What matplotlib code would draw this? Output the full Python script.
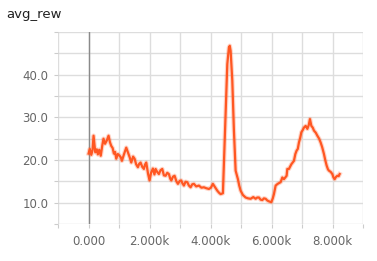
import numpy as np
import matplotlib
matplotlib.use('Agg')
import matplotlib.pyplot as plt

# avg_rew curve, values
steps = [0, 40, 90, 130, 164, 220, 270, 305, 350, 400, 450, 490, 540, 600,
         656, 700, 744, 790, 830, 870, 908, 960, 1017, 1060, 1093, 1160, 1236,
         1290, 1350, 1400, 1460, 1509, 1560, 1617, 1660, 1706, 1760, 1814, 1850,
         1892, 1950, 2000, 2050, 2110, 2160, 2198, 2250, 2306, 2360, 2417, 2470,
         2526, 2580, 2634, 2680, 2713, 2770, 2821, 2880, 2930, 2990, 3040, 3080,
         3126, 3180, 3237, 3290, 3346, 3400, 3454, 3530, 3618, 3700, 3782, 3850,
         3946, 4010, 4077, 4150, 4221, 4280, 4330, 4405, 4438, 4494, 4549, 4602,
         4630, 4658, 4713, 4766, 4822, 4897, 4940, 4986, 5060, 5150, 5230, 5314,
         5400, 5478, 5530, 5586, 5640, 5697, 5750, 5806, 5860, 5914, 5993, 6040,
         6078, 6134, 6200, 6298, 6353, 6406, 6494, 6517, 6570, 6626, 6649, 6734,
         6780, 6822, 6860, 6898, 6940, 6977, 7020, 7062, 7118, 7174, 7220, 7259,
         7305, 7350, 7390, 7450, 7501, 7560, 7610, 7660, 7718, 7760, 7806, 7850,
         7882, 7940, 7993, 8030, 8069, 8110, 8158, 8200, 8233]
avg_rew = [21.5, 22.6, 21.2, 22.3, 25.7, 21.8, 22.5, 21.3, 22.4, 21.0, 23.4,
           25.0, 23.8, 24.6, 25.7, 24.2, 23.3, 22.8, 21.5, 21.9, 20.3, 21.4,
           21.0, 20.6, 19.8, 21.3, 22.9, 21.8, 20.6, 19.4, 20.8, 20.3, 19.0,
           18.3, 19.1, 19.4, 18.4, 17.9, 18.9, 19.4, 16.8, 15.2, 17.0, 18.0,
           16.6, 17.9, 17.2, 16.7, 17.6, 17.9, 16.4, 16.3, 17.0, 16.7, 15.6,
           15.2, 16.1, 16.3, 15.0, 14.4, 15.1, 15.2, 14.5, 14.0, 14.9, 14.8,
           14.0, 13.6, 14.3, 14.4, 13.8, 14.0, 13.5, 13.6, 13.4, 13.2, 13.5,
           14.4, 13.6, 12.8, 12.3, 12.0, 12.2, 19.0, 30.8, 42.5, 46.4, 46.8,
           45.6, 38.6, 26.9, 17.5, 15.5, 14.0, 12.8, 11.8, 11.2, 11.0, 10.9,
           11.3, 10.9, 11.2, 11.2, 10.7, 10.6, 11.0, 10.9, 10.5, 10.3, 10.1,
           11.0, 12.0, 14.0, 14.4, 14.8, 15.9, 15.5, 16.3, 17.9, 17.9, 18.7,
           19.0, 19.8, 21.4, 22.2, 22.6, 24.1, 25.2, 26.5, 27.0, 27.6, 28.0,
           27.3, 28.2, 29.6, 28.0, 27.6, 26.9, 26.4, 25.7, 25.0, 24.1, 23.0,
           21.4, 20.0, 18.7, 17.8, 17.5, 17.2, 16.7, 15.9, 15.5, 16.0, 16.3,
           16.2, 16.7]

x_ticks = np.arange(-1000, 9001, 1000)
x_labels = ['', '0.000', '', '2.000k', '', '4.000k', '', '6.000k', '', '8.000k', '']
y_ticks = np.arange(5, 51, 5)
y_labels = ['', '10.0', '', '20.0', '', '30.0', '', '40.0', '', '']

fig = plt.figure(figsize=(3.77, 2.61), dpi=100)
ax = fig.add_axes([0.154, 0.142, 0.809, 0.735])

# faint halo + main line
ax.plot(steps, avg_rew, color='#FF5722', alpha=0.25, linewidth=3.2, zorder=3)
ax.plot(steps, avg_rew, color='#FF5722', linewidth=1.6, zorder=4)

ax.axvline(0, color='#8a8a8a', linewidth=1.0, zorder=2)

ax.set_xlim(-1000, 9000)
ax.set_ylim(5, 50)
ax.set_xticks(x_ticks)
ax.set_xticklabels(x_labels)
ax.set_yticks(y_ticks)
ax.set_yticklabels(y_labels)
ax.grid(True, color='#dddddd', linewidth=1.0, zorder=1)
ax.set_axisbelow(True)
for s in ax.spines.values():
    s.set_visible(False)
ax.tick_params(axis='both', length=3, color='#cccccc', labelcolor='#666666',
               labelsize=8.5)
ax.tick_params(axis='x', pad=5)
ax.tick_params(axis='y', pad=4)

fig.text(0.016, 0.945, 'avg_rew', fontsize=9.5, color='#222222', va='center')

fig.savefig('out.png', dpi=100)
